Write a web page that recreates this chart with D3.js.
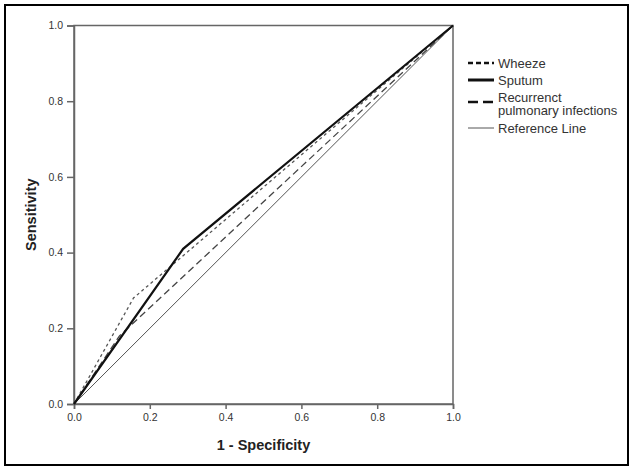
<!DOCTYPE html>
<html>
<head>
<meta charset="utf-8">
<script src="https://cdn.jsdelivr.net/npm/d3@7"></script>
<style>
  html, body { margin: 0; padding: 0; background: #fff; }
  svg { display: block; }
</style>
</head>
<body>
<svg id="chart" width="633" height="470"></svg>
<script>
// ---- data ----
const seriesNames = ["Wheeze", "Sputum", "Recurrenct pulmonary infections", "Reference Line"];
const wheeze = [[0, 0], [0.157, 0.28], [1, 1]];
const sputum = [[0, 0], [0.288, 0.41], [1, 1]];
const recurrent = [[0, 0], [0.12, 0.18], [1, 1]];
const reference = [[0, 0], [1, 1]];
const xTicks = [0, 0.2, 0.4, 0.6, 0.8, 1.0];
const yTicks = [0, 0.2, 0.4, 0.6, 0.8, 1.0];

const svg = d3.select("#chart");
const font = "Arial, 'Liberation Sans', sans-serif";

// outer frame
svg.append("rect").attr("x", 5).attr("y", 5).attr("width", 623).attr("height", 460)
  .attr("fill", "#fff").attr("stroke", "#000").attr("stroke-width", 2);

const x = d3.scaleLinear().domain([0, 1]).range([74, 453]);
const y = d3.scaleLinear().domain([0, 1]).range([404, 25.5]);

const axisColor = "#666";
const textColor = "#333";

// plot box
svg.append("rect").attr("x", x(0)).attr("y", y(1))
  .attr("width", x(1) - x(0)).attr("height", y(0) - y(1))
  .attr("fill", "none").attr("stroke", axisColor).attr("stroke-width", 1.5);

const fmt = d3.format(".1f");
const xAxis = svg.append("g").attr("transform", `translate(0,${y(0)})`)
  .call(d3.axisBottom(x).tickValues(xTicks).tickFormat(fmt).tickSize(5).tickPadding(5));
const yAxis = svg.append("g").attr("transform", `translate(${x(0)},0)`)
  .call(d3.axisLeft(y).tickValues(yTicks).tickFormat(fmt).tickSize(7).tickPadding(4));
[xAxis, yAxis].forEach(g => {
  g.select(".domain").attr("stroke", axisColor).attr("stroke-width", 1.5);
  g.selectAll(".tick line").attr("stroke", axisColor).attr("stroke-width", 1.5);
  g.selectAll(".tick text").attr("fill", textColor).style("font-family", font).style("font-size", "10.5px");
});

// axis titles
svg.append("text").attr("x", (x(0) + x(1)) / 2).attr("y", 450)
  .attr("text-anchor", "middle").attr("fill", "#222")
  .style("font-family", font).style("font-size", "14.5px").style("font-weight", "bold")
  .text("1 - Specificity");
svg.append("text").attr("transform", `translate(36,${(y(0) + y(1)) / 2}) rotate(-90)`)
  .attr("text-anchor", "middle").attr("fill", "#222")
  .style("font-family", font).style("font-size", "14.5px").style("font-weight", "bold")
  .text("Sensitivity");

const line = d3.line().x(d => x(d[0])).y(d => y(d[1]));

const styles = [
  { data: wheeze, color: "#555", width: 1.3, dash: "3,3", lw: 2.6, ldash: "5,3" },
  { data: sputum, color: "#111", width: 2.2, dash: null, lw: 3, ldash: null },
  { data: recurrent, color: "#444", width: 1.3, dash: "7,4", lw: 2.6, ldash: "10,5" },
  { data: reference, color: "#555", width: 1, dash: null, lw: 1, ldash: null }
];

// draw reference first, then others
[3, 2, 0, 1].forEach(i => {
  const s = styles[i];
  svg.append("path").datum(s.data).attr("d", line)
    .attr("fill", "none").attr("stroke", s.color).attr("stroke-width", s.width)
    .attr("stroke-dasharray", s.dash);
});

// legend
const legendY = [63, 80, 102, 128];
const legendLabels = [["Wheeze"], ["Sputum"], ["Recurrenct", "pulmonary infections"], ["Reference Line"]];
const textY = [[63], [80], [97, 110.5], [128]];
styles.forEach((s, i) => {
  svg.append("line").attr("x1", 468).attr("x2", 494)
    .attr("y1", legendY[i]).attr("y2", legendY[i])
    .attr("stroke", i === 3 ? "#555" : "#111").attr("stroke-width", s.lw)
    .attr("stroke-dasharray", s.ldash);
  legendLabels[i].forEach((t, j) => {
    svg.append("text").attr("x", 498).attr("y", textY[i][j])
      .attr("dy", "0.35em").attr("fill", textColor)
      .style("font-family", font).style("font-size", "13px")
      .text(t);
  });
});
</script>
</body>
</html>
